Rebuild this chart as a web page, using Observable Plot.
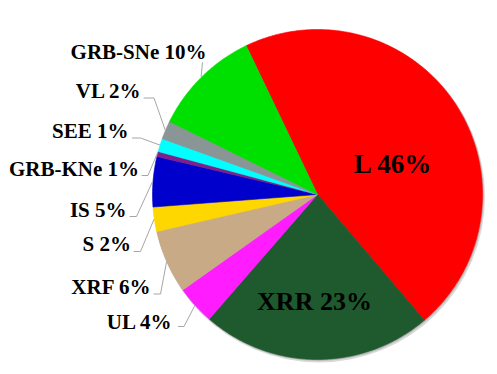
<!DOCTYPE html>
<html><head><meta charset="utf-8">
<script src="https://cdn.jsdelivr.net/npm/d3@7"></script>
<script src="https://cdn.jsdelivr.net/npm/@observablehq/plot@0.6"></script>
<style>body{margin:0;background:#fff} #chart svg text{font-family:"Liberation Serif","Times New Roman",serif !important;font-weight:bold}</style>
</head><body><div id="chart"></div>
<script>
// ---- data ----
const categories = ["L","XRR","UL","XRF","S","IS","GRB-KNe","SEE","VL","GRB-SNe"];
const values = [45.9,22.6,3.8,6.2,2.4,4.9,0.5,1.3,1.8,10.6];
const percentLabels = ["46%","23%","4%","6%","2%","5%","1%","1%","2%","10%"];
const colors = ["#ff0000","#1e5a2d","#ff1cff","#c9aa86","#ffd700","#0000cc","#7d1f8c","#00ffff","#8a9696","#00e000"];

// ---- layout (pixels) ----
const W = 497, H = 374;
const cx = 317, cy = 194, R = 165;
const startDeg = -25.6;
// label layout: elbow point, tail point, text anchor (end, baseline)
const outsideLayout = {
  "GRB-SNe": {elbow:[202,62], tail:[202,62], text:[206,58]},
  "VL":      {elbow:[153.5,97.5], tail:[143.5,97.5], text:[140,97]},
  "SEE":     {elbow:[140,137.5], tail:[132,137.5], text:[128,137.5]},
  "GRB-KNe": {elbow:[147.5,175], tail:[141.5,175], text:[138.5,175]},
  "IS":      {elbow:[136,216], tail:[129.5,216], text:[126,216]},
  "S":       {elbow:[140,251], tail:[133.5,251], text:[130.5,250]},
  "XRF":     {elbow:[160,293.5], tail:[153.5,293.5], text:[150,293]},
  "UL":      {elbow:[183.5,326], tail:[178,326], text:[171,328.5]}
};
const insideLayout = {
  "L":   {text:[392,172], size:27},
  "XRR": {text:[314,309.5], size:26}
};

const rows = categories.map((name,i)=>({name, value:values[i], pct:percentLabels[i]}));
const start = startDeg*Math.PI/180;
const arcs = d3.pie().sort(null).value(d=>d.value).startAngle(start).endAngle(start+2*Math.PI)(rows);
const pt = (a, r) => ({x: cx + r*Math.sin(a), y: cy - r*Math.cos(a)});

const slicePts = arcs.flatMap(a=>{
  const name = a.data.name;
  const n = Math.max(2, Math.ceil((a.endAngle-a.startAngle)/(Math.PI/360)));
  const pts = [{name, x:cx, y:cy}];
  for(let i=0;i<=n;i++){ const p = pt(a.startAngle+(a.endAngle-a.startAngle)*i/n, R); pts.push({name, ...p}); }
  pts.push({name, x:cx, y:cy});
  return pts;
});

const leaderPts = arcs.filter(a=>outsideLayout[a.data.name]).flatMap(a=>{
  const name = a.data.name, L = outsideLayout[name];
  const e = pt((a.startAngle+a.endAngle)/2, R+0.5);
  return [{name, ...e}, {name, x:L.elbow[0], y:L.elbow[1]}, {name, x:L.tail[0], y:L.tail[1]}];
});
const outsideText = rows.filter(r=>outsideLayout[r.name]).map(r=>({
  label: r.name+" "+r.pct, x: outsideLayout[r.name].text[0], y: outsideLayout[r.name].text[1]}));
const insideText = rows.filter(r=>insideLayout[r.name]).map(r=>({
  label: r.name+" "+r.pct, x: insideLayout[r.name].text[0], y: insideLayout[r.name].text[1], size: insideLayout[r.name].size}));

const chart = Plot.plot({
  width: W, height: H,
  margin: 0,
  x: {domain:[0,W], range:[0,W], axis:null},
  y: {domain:[0,H], range:[0,H], axis:null},
  color: {domain: categories, range: colors},
  style: {background:"#fff"},
  marks: [
    Plot.dot([{x:cx+1.5,y:cy+2}], {x:"x", y:"y", r:R+1, fill:"#d9d9d9"}),
    Plot.dot([{x:cx+0.8,y:cy+1}], {x:"x", y:"y", r:R+0.5, fill:"#b8b8b8"}),
    Plot.line(slicePts, {x:"x", y:"y", z:"name", fill:"name", stroke:"name", strokeWidth:0.6, curve:"linear"}),
    Plot.line(leaderPts, {x:"x", y:"y", z:"name", stroke:"#a6a6a6", strokeWidth:1}),
    Plot.text(outsideText, {x:"x", y:"y", text:"label", textAnchor:"end", lineAnchor:"bottom",
      fontFamily:"Liberation Serif", fontWeight:"bold", fontSize:21, fill:"#000"}),
    ...insideText.map(t=>Plot.text([t], {x:"x", y:"y", text:"label", textAnchor:"middle", lineAnchor:"bottom",
      fontFamily:"Liberation Serif", fontWeight:"bold", fontSize:t.size, fill:"#000"}))
  ]
});
document.getElementById("chart").appendChild(chart);
</script>
</body></html>
